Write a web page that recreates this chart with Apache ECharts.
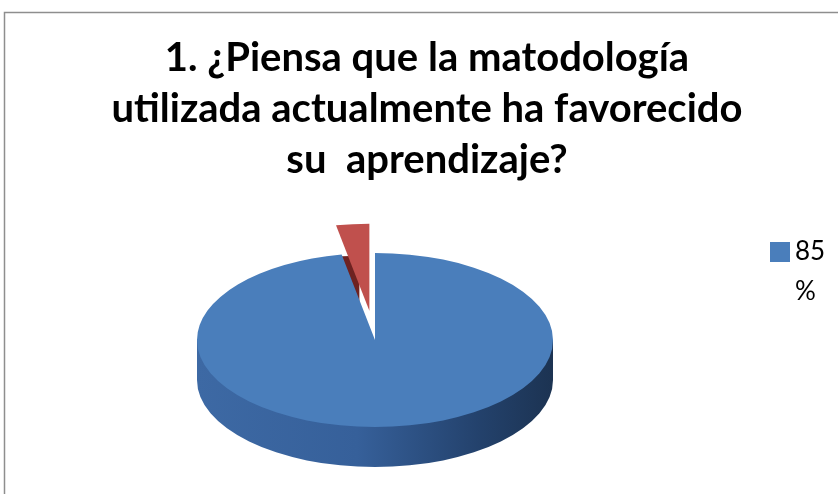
<!DOCTYPE html>
<html>
<head>
<meta charset="utf-8">
<script src="https://cdn.jsdelivr.net/npm/echarts@6/dist/echarts.min.js"></script>
<style>
  html, body { margin: 0; padding: 0; background: #fff; }
  #chart { width: 838px; height: 494px; }
</style>
</head>
<body>
<div id="chart"></div>
<script>
// data
var categories = ['85 %', ''];
var values = [97, 3];
var titleText = '1. ¿Piensa que la matodología\nutilizada actualmente ha favorecido\nsu  aprendizaje?';

// look of the slices (top face / side)
var topColors = ['#4a7ebb', '#c0504d'];
var sideColors = [
	{ type: 'linear', x: 0, y: 0, x2: 1, y2: 0, colorStops: [
		{ offset: 0, color: '#3d69a4' }, { offset: 0.45, color: '#36609a' },
		{ offset: 0.8, color: '#23416b' }, { offset: 1, color: '#1c3352' }] },
	'#6e2221'
];
var explode = [0, 60];
var sideShift = [[0, 40], [-10, 32]];

var total = values.reduce(function (a, b) { return a + b; }, 0);

function renderItem(params, api) {
	var i = params.dataIndex;
	var before = 0;
	for (var k = 0; k < i; k++) before += values[k];
	var start = -Math.PI / 2 + 2 * Math.PI * before / total;
	var end = start + 2 * Math.PI * api.value(0) / total;
	var cx = 375, cy = 340, rx = 178, sy = 87 / 178;
	var mid = (start + end) / 2;
	var ox = cx + explode[i] * Math.cos(mid);
	var oy = cy + explode[i] * Math.sin(mid) * sy;
	var zBase = i === 0 ? 10 : 0;
	var shape = { cx: 0, cy: 0, r: rx, startAngle: start, endAngle: end, clockwise: true };
	var children = [{
		type: 'sector', shape: shape, x: ox + sideShift[i][0], y: oy + sideShift[i][1], scaleY: sy,
		style: { fill: sideColors[i] }, z2: zBase
	}];
	if (end - start > Math.PI) {
		children.push({
			type: 'rect', shape: { x: ox - rx, y: oy, width: rx * 2, height: sideShift[i][1] },
			style: { fill: sideColors[i] }, z2: zBase + 1
		});
	}
	children.push({
		type: 'sector', shape: shape, x: ox, y: oy, scaleY: sy,
		style: { fill: topColors[i] }, z2: zBase + 2
	});
	return { type: 'group', children: children };
}

var myChart = echarts.init(document.getElementById('chart'));
var option = {
	backgroundColor: '#fff',
	animation: false,
	title: {
		text: titleText,
		left: 427,
		top: 33,
		textAlign: 'center',
		padding: 0,
		textStyle: {
			fontFamily: 'Lato',
			fontWeight: 'bold',
			fontSize: 40,
			lineHeight: 51,
			color: '#000'
		}
	},
	legend: {
		data: [{ name: categories[0], itemStyle: { color: topColors[0] } }],
		left: 770,
		top: 192,
		orient: 'vertical',
		icon: 'rect',
		itemWidth: 20,
		itemHeight: 20,
		itemGap: 6,
		padding: 0,
		selectedMode: false,
		// the label wraps under the number, first line level with the square
		formatter: function (name) { return ' \n' + name.split(' ').join('\n'); },
		textStyle: {
			fontFamily: 'Lato',
			fontSize: 26,
			color: '#000',
			lineHeight: 40
		}
	},
	graphic: [{
		type: 'rect',
		shape: { x: 4.5, y: 12.5, width: 900, height: 600 },
		style: { fill: 'none', stroke: '#8e8e8e', lineWidth: 1.5 },
		silent: true
	}],
	series: [{
		name: categories[0],
		type: 'custom',
		coordinateSystem: 'none',
		renderItem: renderItem,
		data: values.map(function (v, i) { return { name: categories[i], value: [v] }; })
	}]
};
myChart.setOption(option);
</script>
</body>
</html>
